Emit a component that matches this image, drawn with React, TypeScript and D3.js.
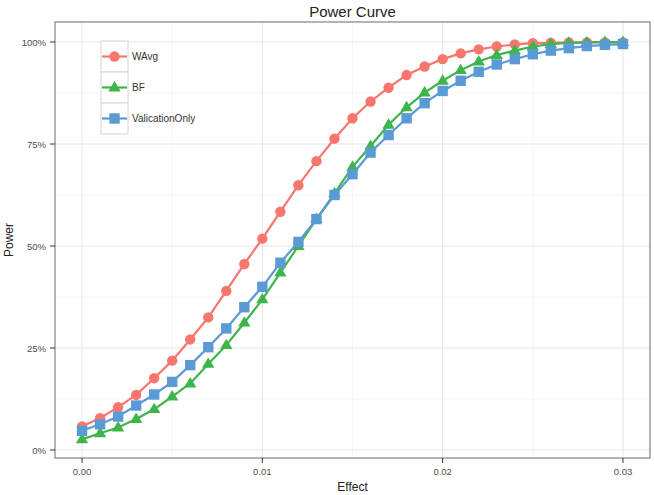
import React from "react"
import * as d3 from "d3"

// effect sizes 0.000 .. 0.030 in steps of 0.001
const effects = [
  0.000, 0.001, 0.002, 0.003, 0.004, 0.005, 0.006, 0.007, 0.008, 0.009,
  0.010, 0.011, 0.012, 0.013, 0.014, 0.015, 0.016, 0.017, 0.018, 0.019,
  0.020, 0.021, 0.022, 0.023, 0.024, 0.025, 0.026, 0.027, 0.028, 0.029, 0.030,
]

const wavg = [
  0.058, 0.078, 0.105, 0.135, 0.176, 0.219, 0.271, 0.325, 0.39, 0.456,
  0.518, 0.584, 0.649, 0.708, 0.763, 0.813, 0.854, 0.888, 0.919, 0.94,
  0.958, 0.972, 0.982, 0.989, 0.994, 0.997, 0.998, 0.999, 0.999, 0.999, 0.999,
]

const bf = [
  0.026, 0.041, 0.055, 0.076, 0.1, 0.131, 0.163, 0.211, 0.257, 0.312,
  0.369, 0.435, 0.5, 0.566, 0.629, 0.694, 0.745, 0.797, 0.84, 0.876,
  0.905, 0.931, 0.952, 0.968, 0.979, 0.989, 0.995, 0.998, 0.999, 1.0, 1.0,
]

const validationOnly = [
  0.047, 0.063, 0.082, 0.109, 0.136, 0.167, 0.208, 0.252, 0.298, 0.35,
  0.4, 0.459, 0.51, 0.566, 0.625, 0.676, 0.729, 0.772, 0.813, 0.85,
  0.88, 0.905, 0.927, 0.945, 0.958, 0.97, 0.979, 0.985, 0.99, 0.993, 0.995,
]

const xTicks = [0, 0.01, 0.02, 0.03]
const xMinor = [0.005, 0.015, 0.025]
const yTicks = [0, 0.25, 0.5, 0.75, 1]
const yMinor = [0.125, 0.375, 0.625, 0.875]

const seriesNames = ["WAvg", "BF", "ValicationOnly"]
const seriesValues = [wavg, bf, validationOnly]
const colors = ["#F8766D", "#3DB54A", "#5B9BD5"]
const shapes = ["circle", "triangle", "square"]

const W = 654
const H = 495
const panel = { left: 55, right: 650, top: 22, bottom: 458 }
const font = "Liberation Sans, Arial, Helvetica, sans-serif"

const x = d3.scaleLinear().domain([-0.0015, 0.0315]).range([panel.left, panel.right])
const y = d3.scaleLinear().domain([0, 1]).range([450, 42])

const Marker = ({ shape, cx, cy, color }: { shape: string; cx: number; cy: number; color: string }) => {
  if (shape === "circle") return <circle cx={cx} cy={cy} r={5.2} fill={color} />
  if (shape === "square") return <rect x={cx - 5.2} y={cy - 5.2} width={10.4} height={10.4} fill={color} />
  const s = 6.5
  return <path d={`M${cx},${cy - s}L${cx + s * 0.95},${cy + s * 0.6}L${cx - s * 0.95},${cy + s * 0.6}Z`} fill={color} />
}

export default function App() {
  const line = d3.line<number>().x((_, i) => x(effects[i])).y(d => y(d))
  const fmtPct = (v: number) => `${Math.round(v * 100)}%`

  return (
    <svg width={W} height={H} style={{ position: "absolute", left: 0, top: 0, background: "#fff" }} fontFamily={font}>
      <rect width={W} height={H} fill="#fff" />

      {/* grid */}
      {xMinor.map(v => (
        <line key={"xm" + v} x1={x(v)} x2={x(v)} y1={panel.top} y2={panel.bottom} stroke="#f4f4f4" strokeWidth={0.8} />
      ))}
      {yMinor.map(v => (
        <line key={"ym" + v} x1={panel.left} x2={panel.right} y1={y(v)} y2={y(v)} stroke="#f4f4f4" strokeWidth={0.8} />
      ))}
      {xTicks.map(v => (
        <line key={"xg" + v} x1={x(v)} x2={x(v)} y1={panel.top} y2={panel.bottom} stroke="#e6e6e6" strokeWidth={1} />
      ))}
      {yTicks.map(v => (
        <line key={"yg" + v} x1={panel.left} x2={panel.right} y1={y(v)} y2={y(v)} stroke="#e6e6e6" strokeWidth={1} />
      ))}

      {/* series */}
      {seriesValues.map((vals, s) => (
        <g key={seriesNames[s]}>
          <path d={line(vals) ?? ""} fill="none" stroke={colors[s]} strokeWidth={2.2} />
          {vals.map((v, i) => (
            <Marker key={i} shape={shapes[s]} cx={x(effects[i])} cy={y(v)} color={colors[s]} />
          ))}
        </g>
      ))}

      {/* panel border */}
      <rect x={panel.left} y={panel.top} width={panel.right - panel.left} height={panel.bottom - panel.top}
        fill="none" stroke="#8c8c8c" strokeWidth={1.3} />

      {/* x axis */}
      {xTicks.map(v => (
        <g key={"xt" + v}>
          <line x1={x(v)} x2={x(v)} y1={panel.bottom} y2={panel.bottom + 5} stroke="#333" strokeWidth={1} />
          <text x={x(v)} y={panel.bottom + 17} textAnchor="middle" fontSize={9.5} fill="#4d4d4d">{v.toFixed(2)}</text>
        </g>
      ))}
      <text x={(panel.left + panel.right) / 2} y={491} textAnchor="middle" fontSize={12} fill="#222">Effect</text>

      {/* y axis */}
      {yTicks.map(v => (
        <g key={"yt" + v}>
          <line x1={panel.left - 5} x2={panel.left} y1={y(v)} y2={y(v)} stroke="#333" strokeWidth={1} />
          <text x={panel.left - 9} y={y(v) + 3.5} textAnchor="end" fontSize={9.5} fill="#4d4d4d">{fmtPct(v)}</text>
        </g>
      ))}
      <text transform={`translate(13,${(panel.top + panel.bottom) / 2}) rotate(-90)`} textAnchor="middle" fontSize={12} fill="#222">Power</text>

      {/* title */}
      <text x={(panel.left + panel.right) / 2} y={17} textAnchor="middle" fontSize={15} fill="#222">Power Curve</text>

      {/* legend */}
      {seriesNames.map((name, s) => {
        const ky = 41 + s * 31
        return (
          <g key={"lg" + name}>
            <rect x={101} y={ky} width={27} height={31} fill="#fff" stroke="#d4d4d4" strokeWidth={1} />
            <line x1={102} x2={127} y1={ky + 15.5} y2={ky + 15.5} stroke={colors[s]} strokeWidth={2.2} />
            <Marker shape={shapes[s]} cx={114.5} cy={ky + 15.5} color={colors[s]} />
            <text x={132} y={ky + 19} fontSize={10} fill="#333">{name}</text>
          </g>
        )
      })}
    </svg>
  )
}
